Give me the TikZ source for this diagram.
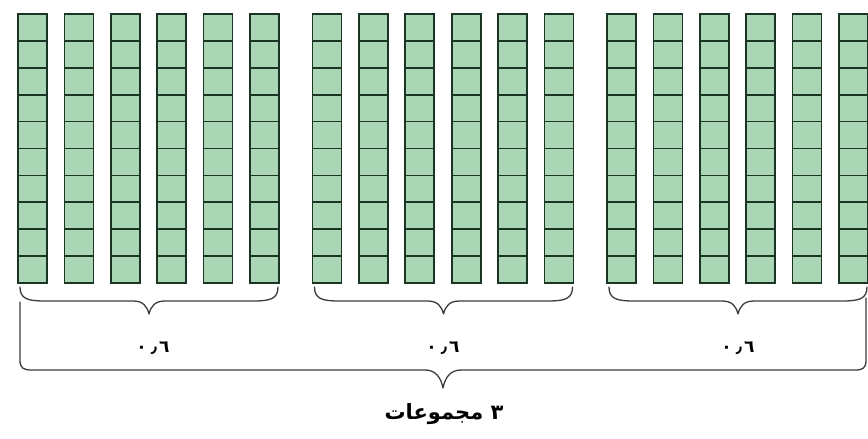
\documentclass[tikz,border=0pt]{standalone}
\usepackage{fontspec}
\newfontfamily\arabicfont[Script=Arabic]{DejaVu Sans}
\TeXXeTstate=1
\definecolor{cellgreen}{RGB}{170,214,182}
\definecolor{celledge}{RGB}{28,52,36}
\definecolor{bracegray}{RGB}{60,60,60}
\begin{document}
\begin{tikzpicture}[x=1pt,y=-1pt,
  cell/.style={fill=cellgreen,draw=celledge,line width=1.7pt},
  bracepath/.style={draw=bracegray,line width=1.3pt,line cap=round,line join=round},
  numlabel/.style={font=\arabicfont\bfseries\fontsize{17}{20}\selectfont,text=black,inner sep=0pt},
  grouplabel/.style={font=\arabicfont\bfseries\fontsize{21}{25}\selectfont,text=black,inner sep=0pt}]
\useasboundingbox[fill=white] (0,0) rectangle (868,439);
% cells
\foreach \g in {0,1,2}{
  \foreach \i in {0,...,5}{
    \pgfmathsetmacro{\xl}{18+294.5*\g+46.4*\i}
    \foreach \r in {0,...,9}{
      \pgfmathsetmacro{\yt}{14+26.9*\r}
      \draw[cell] (\xl,\yt) rectangle ++(29,26.9);
    }
  }
}
% small braces
\foreach \g in {0,1,2}{
  \pgfmathsetmacro{\xa}{20+294.5*\g}
  \pgfmathsetmacro{\xb}{\xa+258}
  \pgfmathsetmacro{\c}{(\xa+\xb)/2}
  \draw[bracepath] (\xa,287) .. controls (\xa,299) and (\xa+8,301) .. (\xa+25,301)
    -- (\c-16,301) .. controls (\c-6,301) and (\c-2,306) .. (\c,314)
    .. controls (\c+2,306) and (\c+6,301) .. (\c+16,301)
    -- (\xb-25,301) .. controls (\xb-8,301) and (\xb,299) .. (\xb,287);
}
% labels
\node[numlabel] (l1) at (153,348) {٠\hspace{4pt}٫\hspace{2pt}٦};
\node[numlabel] (l2) at (443,348) {٠\hspace{4pt}٫\hspace{2pt}٦};
\node[numlabel] (l3) at (738,348) {٠\hspace{4pt}٫\hspace{2pt}٦};
% big brace
\draw[bracepath] (20,302) -- (20,360) .. controls (20,368) and (23,370) .. (32,370)
  -- (425,370) .. controls (436,370) and (441,378) .. (443,388)
  .. controls (445,378) and (450,370) .. (461,370)
  -- (855,370) .. controls (863,370) and (866,368) .. (866,360) -- (866,298);
\node[grouplabel] (total) at (444,414) {\beginR ٣ مجموعات\endR};
\end{tikzpicture}
\end{document}
